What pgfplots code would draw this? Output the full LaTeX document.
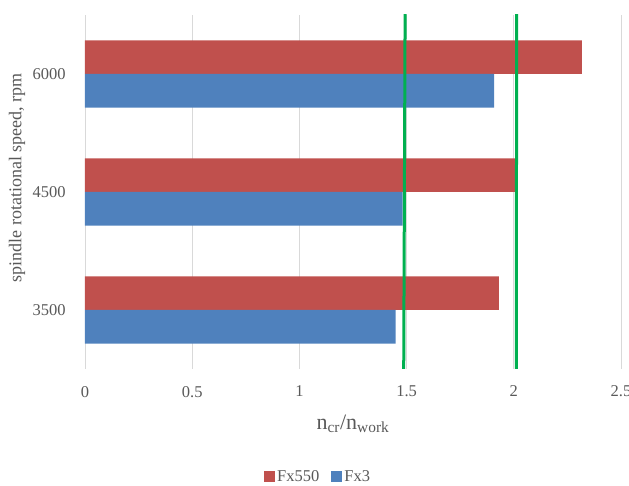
\documentclass[border=0pt]{standalone}
\usepackage{fontspec}
\setmainfont{Liberation Serif}
\usepackage{pgfplots}
\pgfplotsset{compat=1.18}
\definecolor{barred}{HTML}{C0504D}
\definecolor{barblue}{HTML}{4F81BD}
\definecolor{limgreen}{HTML}{00B050}
\definecolor{txtgray}{HTML}{595959}
\definecolor{gridgray}{HTML}{D9D9D9}

\begin{document}
\begin{tikzpicture}
% fixed page: the 2.5 label is cut at the right edge, as in the reference
\useasboundingbox (-85pt,-117pt) rectangle (544pt,369pt);
\begin{axis}[
    at={(0pt,0pt)}, anchor=south west,
    scale only axis,
    width=536pt, height=354pt,
    xbar, bar width=0.285,
    xmin=0, xmax=2.5, ymin=-0.5, ymax=2.5,
    enlargelimits=false,
    xtick={0,0.5,1,1.5,2,2.5},
    ytick={0,1,2},
    yticklabels={3500,4500,6000},
    /pgf/number format/assume math mode=true,
    ticklabel style={font=\fontsize{16.5}{19}\selectfont, text=txtgray},
    xticklabel style={yshift=-13.5pt},
    yticklabel style={xshift=-11.5pt},
    axis line style={draw=none},
    tick style={draw=none},
    xmajorgrids,
    major grid style={gridgray, line width=0.8pt},
    xlabel={n\textsubscript{cr}/n\textsubscript{work}},
    xlabel style={at={(axis description cs:0.5,-0.17)}, anchor=base,
        font=\fontsize{22}{26}\selectfont, text=txtgray},
    ylabel={spindle rotational speed, rpm},
    ylabel style={at={(axis description cs:-0.127,0.54)}, anchor=center,
        font=\fontsize{18}{21}\selectfont, text=txtgray},
    every axis plot post/.append style={
        legend image code/.code={\fill[##1] (0pt,-5.5pt) rectangle (11pt,5.5pt);}},
    legend style={at={(axis description cs:0.435,-0.305)}, anchor=center,
        draw=none, legend columns=2,
        font=\fontsize{16.5}{19}\selectfont, text=txtgray,
        /tikz/every even column/.append style={column sep=10pt}},
]

% Fx550 (upper bar of each pair)
\addplot[fill=barred, draw=none, bar shift=0.1425] coordinates {
    (1.93,0) (2.011,1) (2.318,2)
};
\addlegendentry{Fx550}

% Fx3 (lower bar of each pair)
\addplot[fill=barblue, draw=none, bar shift=-0.1425] coordinates {
    (1.449,0) (1.482,1) (1.908,2)
};
\addlegendentry{Fx3}

% green limit lines
\addplot[sharp plot, limgreen, line width=3pt, forget plot] coordinates {
    (1.4865,-0.52) (1.493,2.52)
};
\addplot[sharp plot, limgreen, line width=3pt, forget plot] coordinates {
    (2.012,-0.52) (2.013,2.52)
};
\end{axis}
\end{tikzpicture}
\end{document}
